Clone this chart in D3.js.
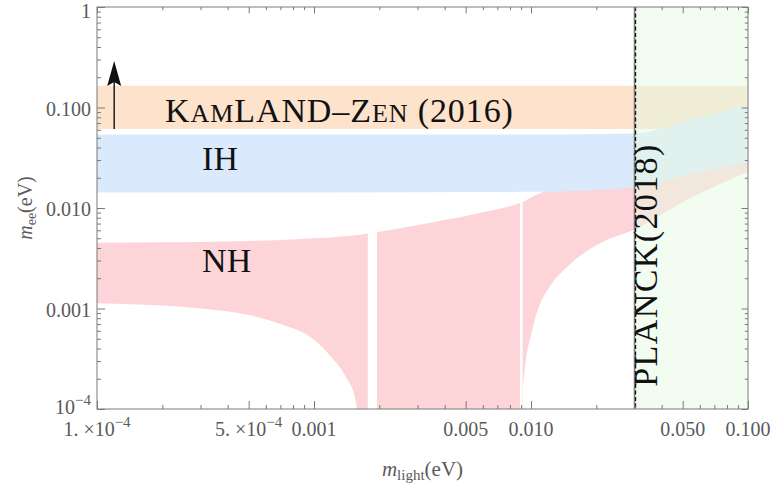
<!DOCTYPE html>
<html>
<head>
<meta charset="utf-8">
<title>m_ee vs m_light</title>
<script src="https://d3js.org/d3.v7.min.js"></script>
<style>
	html, body { margin: 0; background: white; }
	svg { display: block; font-family: "Liberation Serif", "Times New Roman", serif; }
</style>
</head>
<body>
<svg id="svg"></svg>
<script>
// ---- data ----
const kamlandBand = [0.061, 0.165];
const planckLimit = 0.03;

const ihMass  = [1e-4, 1e-3, 1e-2, 1.5e-2, 2e-2, 3e-2, 5.4e-2, 0.1];
const ihLower = [0.0143, 0.0143, 0.0145, 0.0147, 0.0151, 0.0162, 0.0216, 0.0287];
const ihUpper = [0.054, 0.054, 0.054, 0.054, 0.0545, 0.055, 0.075, 0.106];

// 1e-5 stands for "zero" (cancellation), it is clipped under the axis
const nhMass  = [1e-4, 2e-4, 3e-4, 5e-4, 7e-4, 1e-3, 1.2e-3, 1.4e-3, 1.55e-3, 1.62e-3, 1.7e-3, 2e-3,
                 3.4e-3, 5.8e-3, 8.9e-3, 9.0e-3, 9.2e-3, 1.02e-2, 1.1e-2, 1.22e-2, 1.47e-2, 2.1e-2, 3e-2, 5.4e-2, 0.1];
const nhLower = [1.13e-3, 1.07e-3, 1.0e-3, 8.6e-4, 7.0e-4, 4.9e-4, 3.3e-4, 2.1e-4, 1.25e-4, 6e-5, 1e-5, 1e-5,
                 1e-5, 1e-5, 1e-5, 1e-5, 1.7e-4, 6.5e-4, 1.1e-3, 1.65e-3, 2.6e-3, 4.5e-3, 6.1e-3, 1.25e-2, 2.3e-2];
const nhUpper = [4.5e-3, 4.55e-3, 4.6e-3, 4.7e-3, 4.8e-3, 5.0e-3, 5.1e-3, 5.25e-3, 5.35e-3, 5.4e-3, 5.5e-3, 5.8e-3,
                 7.1e-3, 8.9e-3, 1.12e-2, 1.13e-2, 1.15e-2, 1.3e-2, 1.4e-2, 1.55e-2, 1.8e-2, 2.4e-2, 3.3e-2, 5.7e-2, 0.1];
// white slits in the NH region (plot sampling gaps)
const nhGaps = [[1.77e-3, 1.95e-3], [8.9e-3, 9.15e-3]];

const arrowMass = 1.2e-4;
const arrowFrom = 0.061;
const arrowTo = 0.29;

const massTicks = [1e-4, 5e-4, 1e-3, 5e-3, 1e-2, 5e-2, 1e-1];
const massTickLabels = ["1. ×10^−4", "5. ×10^−4", "0.001", "0.005", "0.010", "0.050", "0.100"];
const meeTicks = [1, 0.1, 0.01, 0.001, 1e-4];
const meeTickLabels = ["1", "0.100", "0.010", "0.001", "10^−4"];

// ---- layout ----
const width = 775, height = 487;
const margins = { top: 7, left: 97, right: 27, bottom: 78 };
const x0 = margins.left, x1 = width - margins.right;
const y0 = height - margins.bottom, y1 = margins.top;

const svg = d3.select("#svg").attr("width", width).attr("height", height);

const scaleX = d3.scaleLog().domain([1e-4, 0.1]).range([x0, x1]);
const scaleY = d3.scaleLog().domain([1e-4, 1]).range([y0, y1]);

const colors = {
	kamland: "#fde2cc",
	ih: "#dae9fb",
	nh: "#fdd5d9",
	planck: "rgb(229,249,225)",
	frame: "#7a7a7a",
	text: "#5a5a5a"
};

svg.append("clipPath").attr("id", "plot-clip")
	.append("rect").attr("x", x0).attr("y", y1).attr("width", x1 - x0).attr("height", y0 - y1);

const plot = svg.append("g").attr("clip-path", "url(#plot-clip)");

const band = d3.area()
	.curve(d3.curveMonotoneX)
	.x(d => scaleX(d.m))
	.y0(d => scaleY(d.lo))
	.y1(d => scaleY(d.hi));

// KamLAND-Zen band
plot.append("path")
	.attr("fill", colors.kamland)
	.attr("d", band([{ m: 1e-4, lo: kamlandBand[0], hi: kamlandBand[1] }, { m: 0.1, lo: kamlandBand[0], hi: kamlandBand[1] }]));

// NH band
const nhData = nhMass.map((m, i) => ({ m, lo: nhLower[i], hi: nhUpper[i] }));
const nhPath = band(nhData);
svg.append("clipPath").attr("id", "nh-clip").append("path").attr("d", nhPath);
plot.append("path").attr("fill", colors.nh).attr("d", nhPath);
plot.append("g").attr("clip-path", "url(#nh-clip)")
	.selectAll("rect")
	.data(nhGaps)
	.enter()
	.append("rect")
	.attr("fill", "white")
	.attr("x", d => scaleX(d[0]))
	.attr("width", d => scaleX(d[1]) - scaleX(d[0]))
	.attr("y", y1)
	.attr("height", y0 - y1);

// IH band
const ihData = ihMass.map((m, i) => ({ m, lo: ihLower[i], hi: ihUpper[i] }));
plot.append("path").attr("fill", colors.ih).attr("d", band(ihData));

// Planck excluded region
plot.append("rect")
	.attr("x", scaleX(planckLimit))
	.attr("y", y1)
	.attr("width", x1 - scaleX(planckLimit))
	.attr("height", y0 - y1)
	.attr("fill", colors.planck)
	.attr("opacity", 0.5);

plot.append("line")
	.attr("x1", scaleX(planckLimit)).attr("x2", scaleX(planckLimit))
	.attr("y1", y1).attr("y2", y0)
	.attr("stroke", "#808080").attr("stroke-width", 1.6);
plot.append("line")
	.attr("x1", scaleX(planckLimit) + 1).attr("x2", scaleX(planckLimit) + 1)
	.attr("y1", y1).attr("y2", y0)
	.attr("stroke", "#111").attr("stroke-width", 1.3)
	.attr("stroke-dasharray", "4,2.5");

// arrow
const ax = scaleX(arrowMass);
plot.append("line")
	.attr("x1", ax).attr("x2", ax)
	.attr("y1", scaleY(arrowFrom)).attr("y2", scaleY(arrowTo) + 20)
	.attr("stroke", "#111").attr("stroke-width", 1.4);
plot.append("path")
	.attr("fill", "#111")
	.attr("d", `M${ax},${scaleY(arrowTo)} L${ax - 7},${scaleY(arrowTo) + 25} L${ax},${scaleY(arrowTo) + 21} L${ax + 7},${scaleY(arrowTo) + 25} Z`);

// ---- frame and ticks ----
svg.append("rect")
	.attr("x", x0).attr("y", y1).attr("width", x1 - x0).attr("height", y0 - y1)
	.attr("fill", "none").attr("stroke", colors.frame).attr("stroke-width", 1);

const minorX = scaleX.ticks().filter(v => !massTicks.some(t => Math.abs(t / v - 1) < 1e-6));
const minorY = scaleY.ticks().filter(v => !meeTicks.some(t => Math.abs(t / v - 1) < 1e-6));

function styleAxis(g) {
	g.select(".domain").remove();
	g.selectAll("line").attr("stroke", colors.frame);
}

[[massTicks, -8], [minorX, -4]].forEach(([vals, size]) => {
	svg.append("g").attr("transform", `translate(0,${y0})`)
		.call(d3.axisBottom(scaleX).tickValues(vals).tickSize(size).tickFormat(""))
		.call(styleAxis);
	svg.append("g").attr("transform", `translate(0,${y1})`)
		.call(d3.axisTop(scaleX).tickValues(vals).tickSize(size * 0.8).tickFormat(""))
		.call(styleAxis);
});
[[meeTicks, -8], [minorY, -4]].forEach(([vals, size]) => {
	svg.append("g").attr("transform", `translate(${x0},0)`)
		.call(d3.axisLeft(scaleY).tickValues(vals).tickSize(size).tickFormat(""))
		.call(styleAxis);
	svg.append("g").attr("transform", `translate(${x1},0)`)
		.call(d3.axisRight(scaleY).tickValues(vals).tickSize(size * 0.8).tickFormat(""))
		.call(styleAxis);
});

function writeLabel(sel, str, size) {
	const parts = str.split("^");
	sel.append("tspan").text(parts[0]);
	if (parts[1]) {
		sel.append("tspan").attr("dy", -size * 0.45).attr("font-size", size * 0.75).text(parts[1]);
	}
}

const tickFont = 20;
svg.append("g")
	.selectAll("text")
	.data(massTicks)
	.enter()
	.append("text")
	.attr("x", d => scaleX(d))
	.attr("y", y0 + 27)
	.attr("text-anchor", "middle")
	.attr("font-size", tickFont)
	.attr("fill", colors.text)
	.each(function(d, i) { writeLabel(d3.select(this), massTickLabels[i], tickFont); });

svg.append("g")
	.selectAll("text")
	.data(meeTicks)
	.enter()
	.append("text")
	.attr("x", x0 - 6)
	.attr("y", d => Math.min(Math.max(scaleY(d) + 8, 18), y0 + 5))
	.attr("text-anchor", "end")
	.attr("font-size", tickFont)
	.attr("fill", colors.text)
	.each(function(d, i) { writeLabel(d3.select(this), meeTickLabels[i], tickFont); });

// axis titles
const xTitle = svg.append("text")
	.attr("transform", `translate(${(x0 + x1) / 2},${y0 + 67})`)
	.attr("text-anchor", "middle")
	.attr("font-size", 21)
	.attr("fill", colors.text);
xTitle.append("tspan").attr("font-style", "italic").text("m");
xTitle.append("tspan").attr("font-size", 15).attr("dy", 4).text("light");
xTitle.append("tspan").attr("dy", -4).text("(eV)");

const yTitle = svg.append("text")
	.attr("transform", `translate(32,${(y0 + y1) / 2}) rotate(-90)`)
	.attr("text-anchor", "middle")
	.attr("font-size", 20)
	.attr("fill", colors.text);
yTitle.append("tspan").attr("font-style", "italic").text("m");
yTitle.append("tspan").attr("font-size", 14).attr("dy", 4).text("ee");
yTitle.append("tspan").attr("dy", -4).text("(eV)");

// in-plot labels
const kam = svg.append("text")
	.attr("x", scaleX(2.06e-4))
	.attr("y", scaleY(0.0718))
	.attr("font-size", 34)
	.attr("letter-spacing", 0.9)
	.attr("fill", "#111");
kam.append("tspan").text("K");
kam.append("tspan").attr("font-size", 26).text("AM");
kam.append("tspan").text("LAND–Z");
kam.append("tspan").attr("font-size", 26).text("EN");
kam.append("tspan").text(" (2016)");

svg.append("text")
	.attr("x", scaleX(3.05e-4))
	.attr("y", scaleY(0.0239))
	.attr("font-size", 34)
	.attr("fill", "#111")
	.text("IH");

svg.append("text")
	.attr("x", scaleX(3.05e-4))
	.attr("y", scaleY(2.31e-3))
	.attr("font-size", 34)
	.attr("fill", "#111")
	.text("NH");

svg.append("text")
	.attr("transform", `translate(${scaleX(0.0381)},${scaleY(2.71e-3)}) rotate(-90)`)
	.attr("text-anchor", "middle")
	.attr("font-size", 34)
	.attr("letter-spacing", 1.4)
	.attr("fill", "#111")
	.text("PLANCK(2018)");
</script>
</body>
</html>
